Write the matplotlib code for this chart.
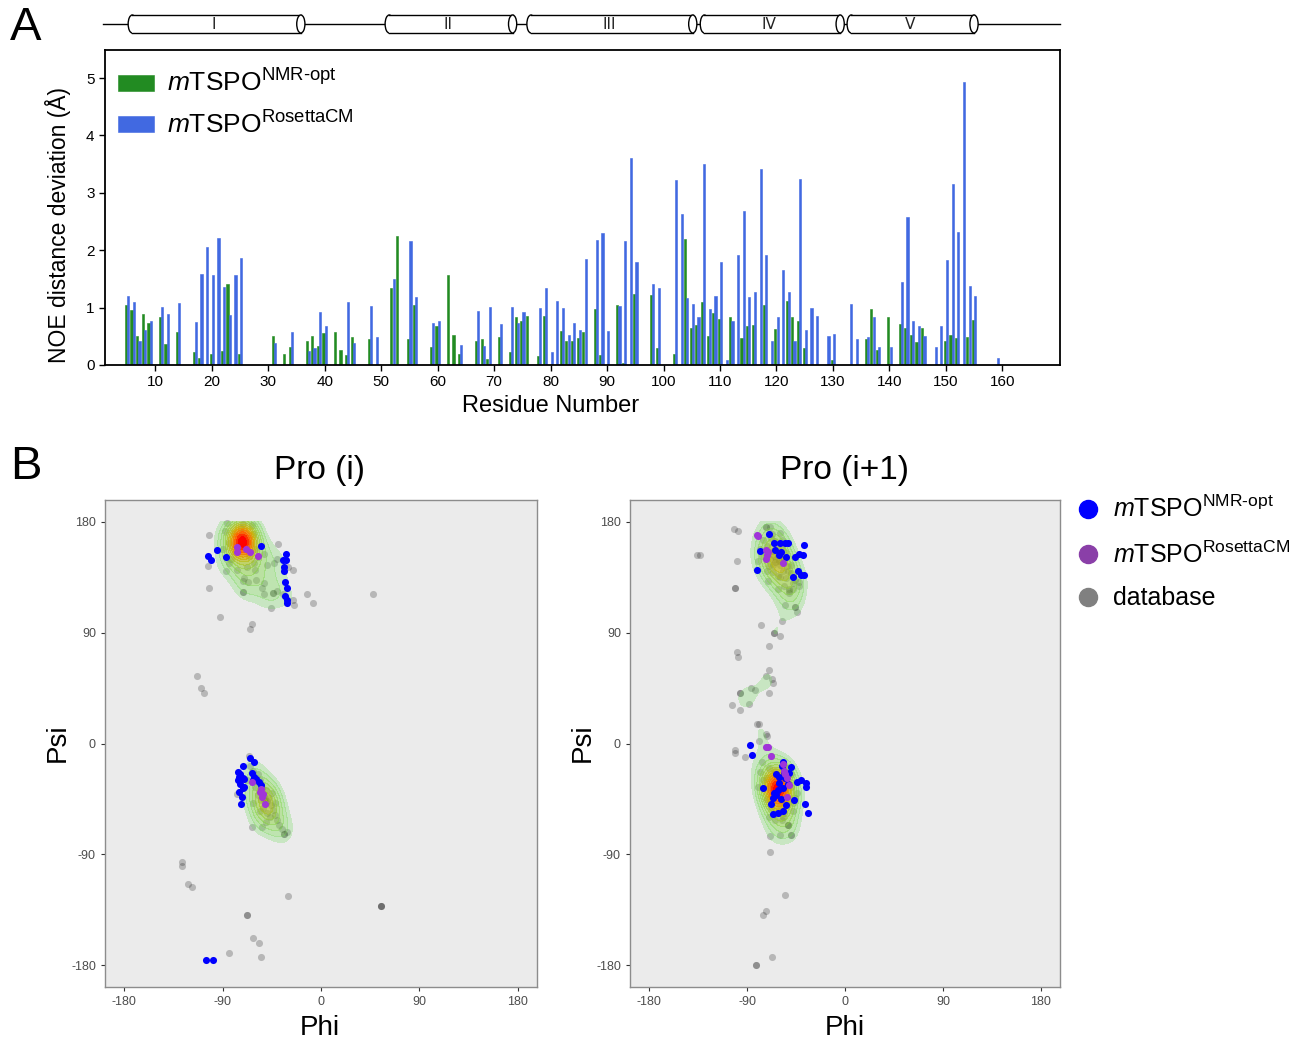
import numpy as np
import matplotlib.pyplot as plt
from matplotlib.patches import Ellipse, Rectangle
from matplotlib.lines import Line2D
from matplotlib.colors import to_rgb

plt.rcParams['font.family'] = ['Liberation Sans', 'DejaVu Sans']
plt.rcParams['mathtext.fontset'] = 'custom'
plt.rcParams['mathtext.rm'] = 'Liberation Sans'
plt.rcParams['mathtext.it'] = 'Liberation Sans:italic'
plt.rcParams['axes.unicode_minus'] = False

# ---- panel A data: NOE distance deviation per residue ----
nmr_res = [5, 6, 7, 8, 9, 11, 12, 14, 17, 18, 20, 22, 23, 25, 31, 33, 34, 37, 38, 39, 40, 42, 43,
           44, 45, 48, 52, 53, 55, 56, 59, 60, 62, 63, 64, 67, 68, 69, 71, 73, 74, 75, 76, 78, 79,
           82, 83, 84, 85, 86, 88, 89, 92, 93, 95, 98, 99, 102, 104, 105, 106, 107, 108, 109, 110,
           112, 114, 115, 116, 118, 120, 122, 123, 124, 125, 130, 136, 137, 138, 140, 142, 143,
           144, 145, 146, 150, 151, 152, 154, 155]
nmr_val = [1.05, 0.96, 0.51, 0.89, 0.73, 0.83, 0.36, 0.58, 0.23, 0.12, 0.19, 0.24, 1.42, 0.20, 0.50,
           0.20, 0.31, 0.42, 0.51, 0.33, 0.55, 0.57, 0.26, 0.17, 0.49, 0.45, 1.34, 2.24, 0.46, 1.04,
           0.31, 0.68, 1.56, 0.52, 0.20, 0.42, 0.45, 0.10, 0.48, 0.22, 0.83, 0.76, 0.86, 0.15, 0.85,
           0.60, 0.41, 0.42, 0.47, 0.58, 0.98, 0.17, 1.04, 0.04, 1.24, 1.22, 0.30, 0.20, 2.19, 0.65,
           0.70, 1.10, 0.50, 0.90, 0.81, 0.83, 0.47, 0.68, 0.70, 1.04, 0.63, 1.11, 0.83, 0.77, 0.29,
           0.08, 0.46, 0.97, 0.26, 0.83, 0.72, 0.65, 0.52, 0.40, 0.64, 0.41, 0.52, 0.47, 0.48, 0.79]
ros_res = [5, 6, 7, 8, 9, 11, 12, 14, 17, 18, 19, 20, 21, 22, 23, 24, 25, 31, 34, 37, 38, 39, 40,
           44, 45, 48, 49, 52, 55, 56, 59, 60, 64, 67, 68, 69, 71, 73, 74, 75, 78, 79, 80, 81, 82,
           83, 84, 85, 86, 88, 89, 90, 92, 93, 94, 95, 98, 99, 102, 103, 104, 105, 106, 107, 108,
           109, 110, 111, 112, 113, 114, 115, 116, 117, 118, 119, 120, 121, 122, 123, 124, 125,
           126, 127, 129, 130, 133, 134, 136, 137, 138, 140, 142, 143, 144, 145, 146, 148, 149,
           150, 151, 152, 153, 154, 155, 159]
ros_val = [1.21, 1.09, 0.42, 0.61, 0.77, 1.01, 0.89, 1.08, 0.75, 1.59, 2.06, 1.56, 2.22, 1.36, 0.87,
           1.56, 1.86, 0.38, 0.58, 0.24, 0.29, 0.92, 0.68, 1.09, 0.38, 1.02, 0.48, 1.50, 2.16, 1.18,
           0.73, 0.77, 0.34, 0.94, 0.33, 1.01, 0.71, 1.01, 0.74, 0.93, 1.00, 1.34, 0.23, 1.11, 1.00,
           0.52, 0.73, 0.61, 1.84, 2.17, 2.30, 0.60, 1.02, 2.16, 3.61, 1.79, 1.41, 1.35, 3.23, 2.64,
           1.17, 1.07, 0.83, 3.50, 0.98, 1.20, 1.80, 0.08, 0.77, 1.92, 2.69, 1.18, 1.27, 3.41, 1.92,
           0.41, 0.84, 1.66, 1.28, 0.42, 3.24, 0.61, 0.99, 0.86, 0.50, 0.54, 1.07, 0.45, 0.48, 0.83,
           0.31, 0.31, 1.45, 2.58, 0.77, 0.68, 0.51, 0.31, 0.68, 1.83, 3.15, 2.31, 4.93, 1.37, 1.21,
           0.12]

# transmembrane helices (start residue, end residue, label)
helix_start = [5.2, 50.7, 75.8, 106.5, 132.5]
helix_end = [36.5, 74.0, 105.9, 132.0, 155.7]
helix_names = ['I', 'II', 'III', 'IV', 'V']

# ---- panel B data: (phi, psi) ----
pi_db = np.array([
    # core of the beta/PPII cluster
    (-72, 164), (-71, 165), (-73, 163), (-70, 163), (-72, 166), (-74, 165), (-71, 162), (-69, 165),
    (-73, 167), (-70, 167), (-72, 161), (-75, 163), (-68, 163), (-71, 168), (-74, 161),
    (-74, 168), (-71, 166), (-69, 163), (-73, 162), (-76, 165), (-70, 160), (-67, 167), (-72, 171),
    (-78, 161), (-65, 162), (-75, 158), (-68, 157), (-73, 175), (-80, 170), (-62, 170), (-79, 155),
    (-66, 152), (-60, 158), (-84, 163), (-71, 178), (-86, 179), (-63, 177), (-88, 172), (-82, 150),
    (-58, 151), (-61, 146), (-52, 154), (-49, 145), (-43, 146), (-40, 150), (-68, 143), (-60, 141),
    (-77, 141), (-70, 134), (-67, 131), (-71, 132), (-59, 133), (-52, 130), (-54, 126), (-71, 123),
    (-71, 123), (-52, 121), (-44, 122), (-44, 122), (-40, 124), (-35, 121), (-26, 141), (-30, 143),
    (-84, 146), (-90, 158),
    # scattered
    (-102, 169), (-39, 162), (-103, 144), (-87, 140), (-102, 126), (-46, 110), (-92, 103), (-63, 97),
    (-65, 93), (-13, 121), (-7, 114), (48, 121), (-26, 116), (-25, 112), (-113, 55), (-110, 45),
    (-107, 41), (-127, -96), (-127, -99), (-122, -114), (-118, -116), (-30, -124), (-68, -139),
    (-68, -139), (55, -132), (55, -132), (55, -132), (-62, -158), (-57, -162),
    (-84, -170), (-55, -173),
    # alpha cluster
    (-66, -10), (-65, -18), (-62, -22), (-58, -25), (-56, -30), (-60, -35), (-54, -36), (-50, -38),
    (-52, -42), (-48, -44), (-55, -46), (-50, -48), (-46, -50), (-53, -52), (-44, -54), (-49, -56),
    (-42, -58), (-47, -60), (-40, -62), (-45, -40), (-58, -42), (-62, -48), (-38, -66), (-63, -68),
    (-54, -68), (-36, -69), (-34, -73), (-34, -73), (-31, -72), (-77, -41), (-68, -30), (-42, -48),
    (-56, -55), (-50, -64), (-51, -45), (-49, -47), (-52, -46)])
pi_nmr = np.array([
    (-103, 152), (-101, 149), (-95, 157), (-87, 151), (-55, 160), (-32, 154), (-35, 149), (-32, 149),
    (-34, 143), (-34, 140), (-33, 131), (-31, 126), (-33, 120), (-31, 116), (-31, 114),
    (-65, -12), (-61, -15), (-71, -18), (-76, -23), (-74, -25), (-75, -27), (-71, -28), (-76, -30),
    (-70, -29), (-74, -33), (-70, -35), (-75, -39), (-71, -36), (-72, -43), (-73, -49), (-63, -24),
    (-61, -27), (-59, -29), (-57, -31), (-55, -34), (-62, -30), (-105, -176), (-99, -176)])
pi_ros = np.array([
    (-77, 159), (-69, 158), (-65, 155), (-77, 155), (-58, 152),
    (-63, -31), (-56, -39), (-53, -41), (-54, -43), (-51, -49), (-55, -37)])

pi1_db = np.array([
    # beta/PPII cluster
    (-73, 176), (-73, 176), (-69, 176), (-60, 171), (-68, 167), (-64, 164), (-72, 160), (-58, 160),
    (-66, 156), (-62, 153), (-69, 150), (-76, 152), (-56, 150), (-64, 147), (-60, 145), (-70, 144),
    (-53, 144), (-57, 140), (-66, 139), (-50, 138), (-62, 136), (-54, 134), (-46, 133), (-48, 130),
    (-42, 131), (-71, 132), (-80, 148), (-78, 158), (-51, 124), (-51, 122), (-51, 125), (-55, 112),
    (-46, 111), (-46, 111), (-44, 107), (-42, 128), (-63, 150), (-61, 148), (-65, 152),
    (-75, 165), (-67, 170), (-58, 165), (-70, 155), (-62, 158), (-55, 155), (-66, 145), (-58, 148),
    (-50, 145), (-60, 135), (-52, 140), (-72, 140), (-48, 125), (-56, 128), (-62, 125),
    # scattered
    (-136, 153), (-133, 153), (-102, 174), (-98, 172), (-99, 148), (-101, 126), (-101, 126),
    (-77, 96), (-58, 99), (-65, 90), (-65, 90), (-60, 87), (-70, 79), (-99, 74), (-98, 70),
    (-70, 60), (-73, 55), (-67, 52), (-66, 49), (-86, 45), (-83, 43), (-96, 41),
    (-96, 41), (-70, 41), (-104, 31), (-96, 27), (-88, 32), (-81, 16),
    (-79, 16), (-73, 8), (-72, 6), (-79, 2), (-101, -5), (-101, -8), (-92, -11), (-69, -88),
    (-55, -123), (-73, -136), (-75, -139), (-67, -173), (-82, -180), (-82, -180),
    # alpha cluster with dense core
    (-62, -37), (-61, -36), (-63, -38), (-62, -35), (-60, -37), (-64, -37), (-62, -39), (-61, -34),
    (-63, -36), (-60, -39), (-64, -39), (-61, -40), (-63, -33), (-59, -36), (-65, -35),
    (-62, -36), (-60, -38), (-64, -34), (-63, -40), (-59, -33), (-66, -38), (-61, -42), (-57, -37),
    (-65, -31), (-68, -42), (-58, -45), (-62, -28), (-55, -30), (-70, -35), (-54, -41), (-66, -47),
    (-60, -50), (-72, -28), (-76, -15), (-78, -23), (-80, -35), (-50, -25), (-48, -48), (-56, -56),
    (-65, -57), (-52, -66), (-52, -66), (-52, -66), (-69, -75), (-60, -74), (-50, -74), (-50, -74),
    (-64, -22), (-56, -18), (-68, -10), (-44, -40), (-58, -62),
    (-70, -20), (-66, -25), (-58, -22), (-72, -45), (-68, -52), (-55, -48), (-50, -35), (-46, -44),
    (-62, -55), (-57, -60), (-75, -30), (-53, -20), (-64, -62), (-70, -60), (-48, -55)])
pi1_nmr = np.array([
    (-70, 170), (-65, 163), (-60, 163), (-55, 163), (-52, 163), (-38, 161), (-78, 156), (-64, 157),
    (-61, 153), (-59, 155), (-54, 151), (-46, 151), (-42, 154), (-39, 153), (-81, 141), (-43, 140),
    (-40, 137), (-38, 137), (-48, 135),
    (-87, -1), (-85, -9), (-57, -15), (-58, -18), (-50, -19), (-51, -24), (-56, -23), (-63, -25),
    (-61, -27), (-55, -28), (-44, -31), (-40, -30), (-36, -32), (-36, -35), (-75, -36), (-61, -32),
    (-57, -36), (-52, -33), (-66, -44), (-68, -49), (-63, -42), (-59, -45), (-54, -50), (-47, -46),
    (-37, -49), (-34, -56), (-66, -57), (-62, -56), (-57, -55), (-62, -38), (-65, -40)])
pi1_ros = np.array([
    (-81, 169), (-80, 168), (-73, 157), (-72, 153), (-73, 150), (-71, 155), (-57, 146),
    (-73, -3), (-71, -3), (-68, -10), (-57, -17), (-56, -22), (-53, -28), (-51, -34), (-53, -43),
    (-55, -25)])

# ---------------- figure ----------------
W, H = 1291, 1041
fig = plt.figure(figsize=(W / 100, H / 100), dpi=100)


def box(x0, y0, x1, y1):
    return [x0 / W, 1 - y1 / H, (x1 - x0) / W, (y1 - y0) / H]


# panel A: bar chart
ax = fig.add_axes(box(105, 50, 1060, 365))
bw = 0.38
ax.bar(np.array(nmr_res) - 0.2, nmr_val, width=bw, color='#228B22', edgecolor='#228B22', lw=0.4,
       label=r'$m$TSPO$^{\text{NMR-opt}}$')
ax.bar(np.array(ros_res) + 0.2, ros_val, width=bw, color='#4169E1', edgecolor='#4169E1', lw=0.4,
       label=r'$m$TSPO$^{\text{RosettaCM}}$')
ax.set_xlim(1.1, 170.2)
ax.set_ylim(0, 5.49)
ax.set_xticks(range(10, 170, 10))
ax.set_yticks(range(0, 6))
ax.tick_params(labelsize=11, length=4, width=1)
for s in ax.spines.values():
    s.set_linewidth(1.3)
ax.legend(loc='upper left', bbox_to_anchor=(-0.007, 1.0), frameon=False, fontsize=19,
          handlelength=1.35, handleheight=0.55, handletextpad=0.5, labelspacing=0.55,
          borderaxespad=0.35)

fig.text(58 / W, 1 - 225 / H, 'NOE distance deviation (Å)', rotation=90, ha='center', va='center',
         fontsize=16.5)
fig.text(551 / W, 1 - 406 / H, 'Residue Number', ha='center', va='center', fontsize=17)

# topology cartoon above panel A
axt = fig.add_axes(box(105, 8, 1060, 40))
axt.set_xlim(1.1, 170.2)
axt.set_ylim(0, 32)
axt.axis('off')
axt.plot([0.8, 170.2], [16, 16], color='black', lw=1, clip_on=False, zorder=1)
cap = 1.45
for st, en, nm in zip(helix_start, helix_end, helix_names):
    axt.add_patch(Ellipse((st + cap / 2, 16), cap, 18, facecolor='white', edgecolor='black', lw=1,
                          zorder=2))
    axt.add_patch(Rectangle((st + cap / 2, 7), en - st - cap, 18, facecolor='white',
                            edgecolor='none', zorder=3))
    axt.plot([st + cap / 2, en - cap / 2], [7, 7], color='black', lw=1, zorder=4)
    axt.plot([st + cap / 2, en - cap / 2], [25, 25], color='black', lw=1, zorder=4)
    axt.add_patch(Ellipse((en - cap / 2, 16), cap, 18, facecolor='white', edgecolor='black', lw=1,
                          zorder=5))
    axt.text((st + en) / 2 - 0.5, 15.5, nm, ha='center', va='center', fontsize=11,
             family='DejaVu Sans', color='#222222', zorder=6)

fig.text(26 / W, 1 - 28 / H, 'A', ha='center', va='center', fontsize=34)
fig.text(26 / W, 1 - 467 / H, 'B', ha='center', va='center', fontsize=34)

# panel B: Ramachandran scatter with density drawn over the database points
gx = np.linspace(-180, 180, 361)
gy = np.linspace(-180, 180, 361)
GX, GY = np.meshgrid(gx, gy)
anchor_t = [0.0, 0.3, 0.6, 0.82, 1.0]
anchor_c = ['#6EDC5A', '#8ED03A', '#D2B000', '#FF6A00', '#FF0000']
levels = np.array([0.13, 0.19, 0.26, 0.33, 0.4, 0.47, 0.54, 0.61, 0.68, 0.75, 0.82, 0.89, 0.95,
                   1.01])


def ramp(t):
    rgb = [float(np.interp(t, anchor_t, [to_rgb(c)[k] for c in anchor_c])) for k in range(3)]
    return tuple(rgb) + (0.28 + 0.72 * t ** 0.8,)


band_colors = [ramp(k / (len(levels) - 2)) for k in range(len(levels) - 1)]

panels = [
    ('Pro (i)', box(105, 500, 537, 987), pi_db, pi_nmr, pi_ros, 320, 58),
    ('Pro (i+1)', box(630, 500, 1060, 987), pi1_db, pi1_nmr, pi1_ros, 845, 583),
]
for title, pos, db, nmr, ros, cx, psx in panels:
    a = fig.add_axes(pos)
    a.set_facecolor('#EBEBEB')
    Z = np.zeros_like(GX)
    for p, q in db:
        Z += np.exp(-0.5 * (((GX - p) / 9.5) ** 2 + ((GY - q) / 11.0) ** 2))
    Z /= Z.max()
    a.scatter(db[:, 0], db[:, 1], s=26, color='black', alpha=0.22, linewidths=0, zorder=1)
    a.contourf(GX, GY, Z, levels=levels, colors=band_colors, zorder=2, antialiased=False)
    a.scatter(nmr[:, 0], nmr[:, 1], s=26, color='#0000FF', linewidths=0, zorder=3)
    a.scatter(ros[:, 0], ros[:, 1], s=26, color='#A035D8', linewidths=0, zorder=4)
    a.set_xlim(-197.5, 197.5)
    a.set_ylim(-197.5, 197.5)
    a.set_xticks([-180, -90, 0, 90, 180])
    a.set_yticks([-180, -90, 0, 90, 180])
    a.tick_params(labelsize=9, labelcolor='#4D4D4D', color='#333333', length=3, width=0.8)
    for s in a.spines.values():
        s.set_color('#8C8C8C')
        s.set_linewidth(1)
    fig.text(cx / W, 1 - 470 / H, title, ha='center', va='center', fontsize=24)
    fig.text(cx / W, 1 - 1028 / H, 'Phi', ha='center', va='center', fontsize=20)
    fig.text(psx / W, 1 - 743 / H, 'Psi', rotation=90, ha='center', va='center', fontsize=20)

handles = [Line2D([], [], marker='o', ls='', color='#0000FF', markersize=13),
           Line2D([], [], marker='o', ls='', color='#8A3FA8', markersize=13),
           Line2D([], [], marker='o', ls='', color='#808080', markersize=13)]
fig.legend(handles, [r'$m$TSPO$^{\text{NMR-opt}}$', r'$m$TSPO$^{\text{RosettaCM}}$', 'database'],
           loc='upper left', bbox_to_anchor=(1063 / W, 1 - 486 / H), frameon=False, fontsize=18,
           handletextpad=0.4, labelspacing=0.75, handlelength=1.2, borderaxespad=0)

fig.savefig('out.png', dpi=100)
